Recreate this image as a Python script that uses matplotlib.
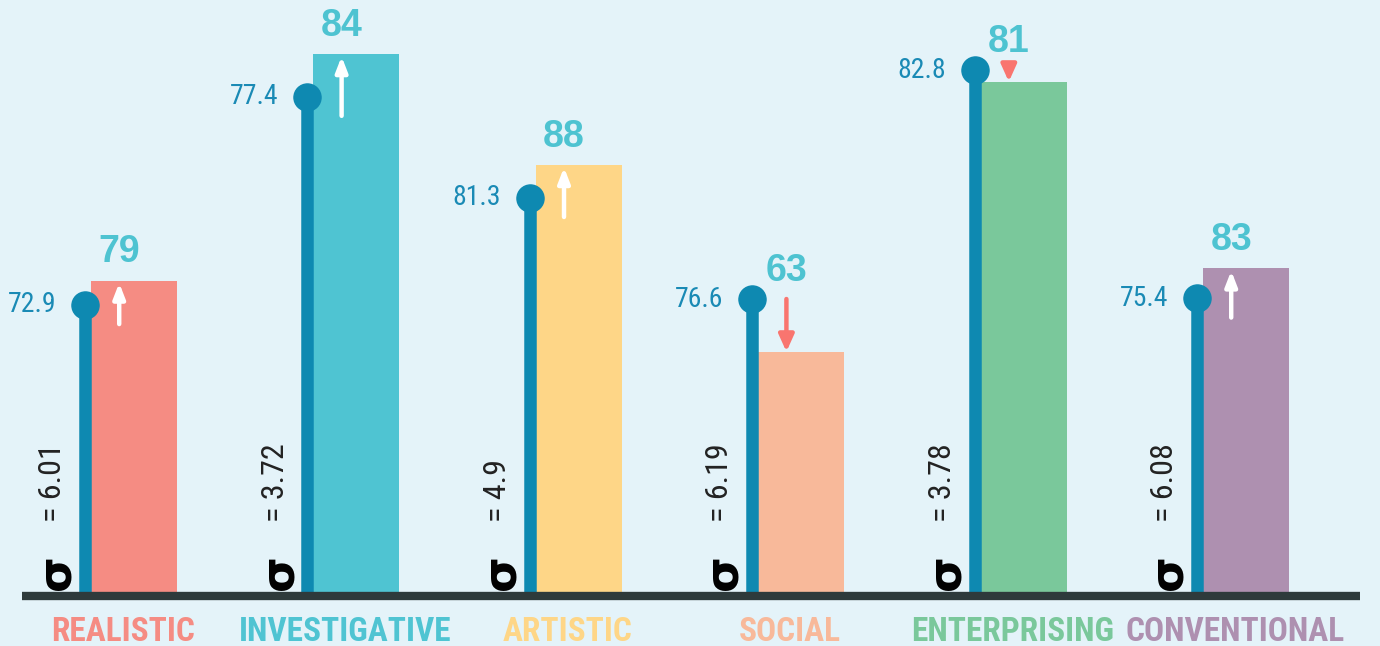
import numpy as np
import matplotlib.pyplot as plt
from matplotlib import font_manager as fm

categories = ["REALISTIC", "INVESTIGATIVE", "ARTISTIC", "SOCIAL", "ENTERPRISING", "CONVENTIONAL"]
scores = [79, 84, 88, 63, 81, 83]
averages = [72.9, 77.4, 81.3, 76.6, 82.8, 75.4]
sigmas = [6.01, 3.72, 4.9, 6.19, 3.78, 6.08]
colors = ["#F58C83", "#4FC4D2", "#FED687", "#F8B99A", "#7AC89B", "#AE90B0"]

bg = "#E4F3F9"
stem_color = "#0E89B1"
label_blue = "#4EC3D1"
small_blue = "#1A8AB5"
down_red = "#F9756F"

# pick a narrow face if there is one
fonts = fm.fontManager.ttflist
names = {f.name for f in fonts}
narrow = None
for n in ["Liberation Sans Narrow", "Roboto Condensed", "Open Sans Condensed"]:
    if n in names:
        narrow = dict(family=n)
        shrink = 1.0
        break
if narrow is None:
    if any(f.name == "DejaVu Sans" and f.stretch == "condensed" for f in fonts):
        narrow = dict(family="DejaVu Sans", stretch="condensed")
        shrink = 0.9
    else:
        narrow = dict(family="Roboto")
        shrink = 0.86

# heights are shown relative to the spread of each scale
bar_h = np.array(scores) / np.array(sigmas)
avg_h = np.array(averages) / np.array(sigmas)

fig = plt.figure(figsize=(13.8, 6.46), dpi=100, facecolor=bg)
ax = fig.add_axes([0, 0, 1, 1])
ax.set_facecolor(bg)
ax.set_xlim(-0.6025, 5.6025)
ax.set_ylim(-50 / 24, 596 / 24)
ax.axis("off")

x = np.arange(len(categories))
bw = 0.387
stem_x = x - bw / 2 - 0.027

ax.bar(x, bar_h, width=bw, color=colors, zorder=2)
ax.vlines(stem_x, 0, avg_h, color=stem_color, lw=9, zorder=3)
ax.plot(stem_x, avg_h, "o", ms=19.5, color=stem_color, zorder=4)
ax.plot([-0.5036, 5.5126], [0, 0], color="#2E3A3B", lw=6, solid_capstyle="butt", zorder=5)

arrow_x = x - bw / 2 + 0.127

for i in range(len(categories)):
    # average value next to the dot
    ax.text(stem_x[i] - 0.13, avg_h[i], f"{averages[i]:g}", ha="right", va="center",
            fontsize=20 * shrink, color=small_blue, zorder=6, **narrow)
    # score above the bar
    top = max(bar_h[i], avg_h[i])
    ax.text(arrow_x[i], top + 0.42, str(scores[i]), ha="center", va="bottom",
            family="Liberation Sans", fontweight="bold", fontsize=27, color=label_blue)
    # arrow from average to score
    if scores[i] > averages[i]:
        ax.annotate("", xy=(arrow_x[i], bar_h[i] - 0.1), xytext=(arrow_x[i], avg_h[i] - 0.8),
                    arrowprops=dict(arrowstyle="-|>,head_length=0.9,head_width=0.35",
                                    color="white", lw=3.2, shrinkA=0, shrinkB=0), zorder=6)
    else:
        ax.annotate("", xy=(arrow_x[i], bar_h[i]), xytext=(arrow_x[i], avg_h[i]),
                    arrowprops=dict(arrowstyle="-|>,head_length=1.0,head_width=0.45",
                                    color=down_red, lw=3.2, shrinkA=0, shrinkB=0), zorder=6)
    # sigma
    ax.text(stem_x[i] - 0.125, 0.98, "σ", rotation=90, ha="center", va="center",
            family="DejaVu Sans", fontweight="bold", fontsize=33, color="black")
    ax.text(stem_x[i] - 0.145, 3.1, f"= {sigmas[i]:g}", rotation=90, ha="center", va="bottom",
            fontsize=23 * shrink, color="#222222", **narrow)
    # category name
    ax.text(x[i] - 0.05, -1.48, categories[i], ha="center", va="center",
            fontweight="bold", fontsize=24 * shrink, color=colors[i], **narrow)

fig.savefig("out.png", dpi=100, facecolor=bg)
